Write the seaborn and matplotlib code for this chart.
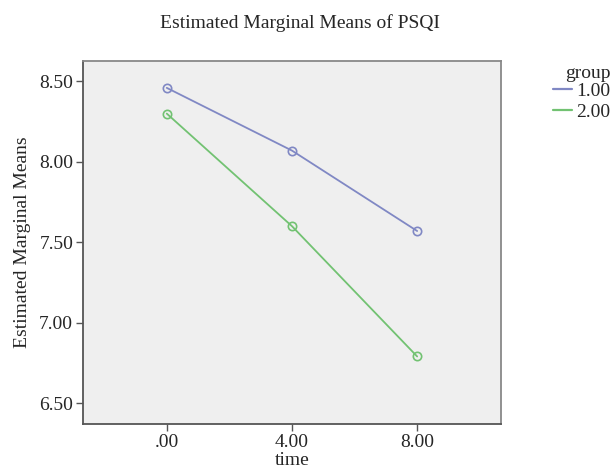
import matplotlib
matplotlib.use("Agg")
import matplotlib.pyplot as plt
import seaborn as sns
import pandas as pd
from matplotlib.lines import Line2D

time_points = [0, 4, 8]
time_labels = [".00", "4.00", "8.00"]
group1 = [8.46, 8.07, 7.57]
group2 = [8.30, 7.60, 6.79]
y_ticks = [6.50, 7.00, 7.50, 8.00, 8.50]
y_tick_labels = ["6.50", "7.00", "7.50", "8.00", "8.50"]

df = pd.DataFrame({
    "time": time_points * 2,
    "mean": group1 + group2,
    "group": ["1.00"] * 3 + ["2.00"] * 3,
})

sns.set_theme(style="white")
plt.rcParams["font.family"] = ["Liberation Serif", "DejaVu Serif"]
FS = 14

fig = plt.figure(figsize=(6.14, 4.71), dpi=100)
ax = fig.add_axes([0.135, 0.0998, 0.681, 0.770])
ax.set_facecolor("#efefef")

palette = {"1.00": "#8088c4", "2.00": "#72c272"}
sns.lineplot(data=df, x="time", y="mean", hue="group", palette=palette,
             marker="o", markersize=6, markerfacecolor="none",
             markeredgewidth=1.2, linewidth=1.3, ax=ax, legend=False)
for line in ax.lines:
    line.set_markeredgecolor(line.get_color())

ax.set_xlim(-2.68, 10.68)
ax.set_ylim(6.37, 8.625)
ax.set_xticks(time_points)
ax.set_xticklabels(time_labels, fontsize=FS)
ax.set_yticks(y_ticks)
ax.set_yticklabels(y_tick_labels, fontsize=FS)
ax.tick_params(axis="both", direction="out", length=5, width=1, color="#555555",
               left=True, bottom=True, pad=2)
for s in ax.spines.values():
    s.set_color("#888888")
    s.set_linewidth(1.3)
ax.spines["left"].set_color("#555555")
ax.spines["bottom"].set_color("#555555")

ax.set_xlabel("time", fontsize=FS, labelpad=1)
ax.set_ylabel("Estimated Marginal Means", fontsize=FS, labelpad=6)
fig.text(0.489, 0.950, "Estimated Marginal Means of PSQI", ha="center",
         va="center", fontsize=FS)

handles = [Line2D([0], [0], color=palette["1.00"], lw=1.6),
           Line2D([0], [0], color=palette["2.00"], lw=1.6)]
leg = fig.legend(handles, ["1.00", "2.00"], title="group",
                 loc="upper left", bbox_to_anchor=(0.9007, 0.862),
                 frameon=False, fontsize=FS, title_fontsize=FS,
                 handlelength=1.0, handletextpad=0.2, labelspacing=0.2,
                 borderpad=0, borderaxespad=0)
leg._legend_box.align = "right"
leg._legend_box.sep = 0

fig.savefig("out.png", dpi=100)
